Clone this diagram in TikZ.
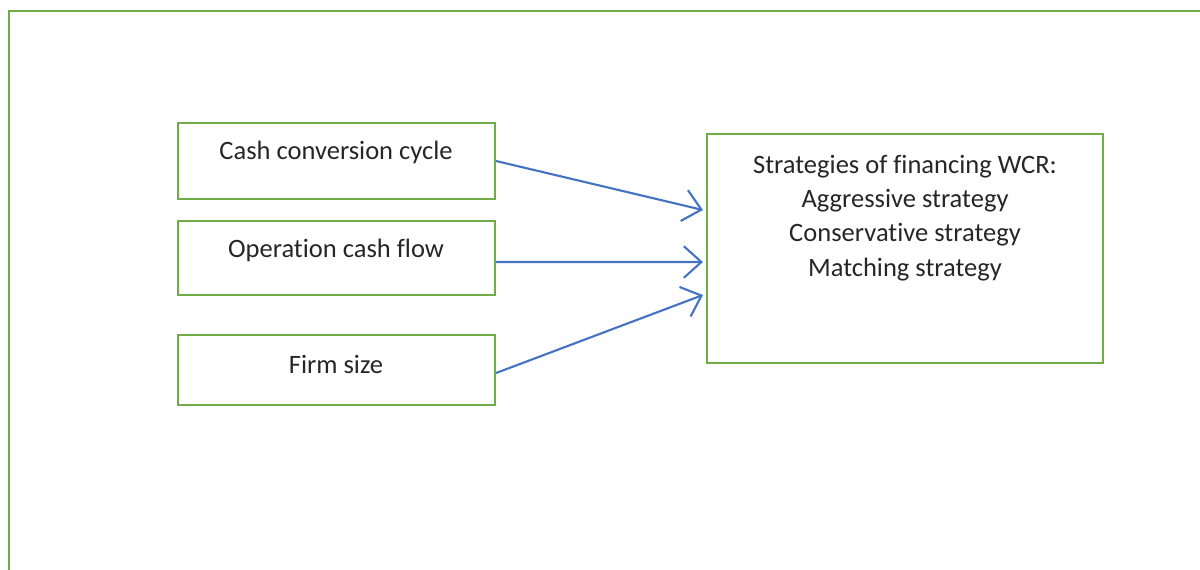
\documentclass[tikz,border=0pt]{standalone}
\usepackage{fontspec}
\setmainfont{Carlito}[Ligatures={NoCommon}]
\usetikzlibrary{arrows.meta}
\definecolor{frgreen}{HTML}{70AD47}
\definecolor{arblue}{HTML}{4472C4}
\begin{document}
\begin{tikzpicture}[x=0.02cm,y=-0.02cm,
  box/.style={draw=frgreen,line width=1.2pt,rectangle,inner sep=0pt},
  lbl/.style={font=\fontsize{15.1}{19.5}\selectfont,text=black!85,align=center,inner sep=0pt},
  conn/.style={draw=arblue,line width=1.2pt,-{Straight Barb[length=10pt,width=18pt,line width=1.2pt]}}]
\useasboundingbox (0,0) rectangle (1200,569);
% outer frame
\draw[frgreen,line width=1.3pt] (9,600) -- (9,11) -- (1250,11);
% boxes
\node[box,minimum width=317*0.02cm,minimum height=76*0.02cm] (b1) at (336.5,161) {};
\node[box,minimum width=317*0.02cm,minimum height=74*0.02cm] (b2) at (336.5,258) {};
\node[box,minimum width=317*0.02cm,minimum height=70*0.02cm] (b3) at (336.5,370) {};
\node[box,minimum width=396*0.02cm,minimum height=229*0.02cm] (r) at (905,248.5) {};
% texts
\node[lbl] (t1) at (336,152) {Cash conversion cycle};
\node[lbl] (t2) at (336,250) {Operation cash flow};
\node[lbl] (t3) at (336,364) {Firm size};
\node[lbl] (tr) at (905,218) {Strategies of financing WCR:\\Aggressive strategy\\Conservative strategy\\Matching strategy};
% connectors
\draw[conn] (b1.east) -- ([xshift=-3*0.02cm,yshift=38.5*0.02cm]r.west);
\draw[conn] ([yshift=-4*0.02cm]b2.east) -- ([xshift=-3*0.02cm,yshift=-13.5*0.02cm]r.west);
\draw[conn] ([yshift=-3*0.02cm]b3.east) -- ([xshift=-3*0.02cm,yshift=-46.5*0.02cm]r.west);
\end{tikzpicture}
\end{document}
